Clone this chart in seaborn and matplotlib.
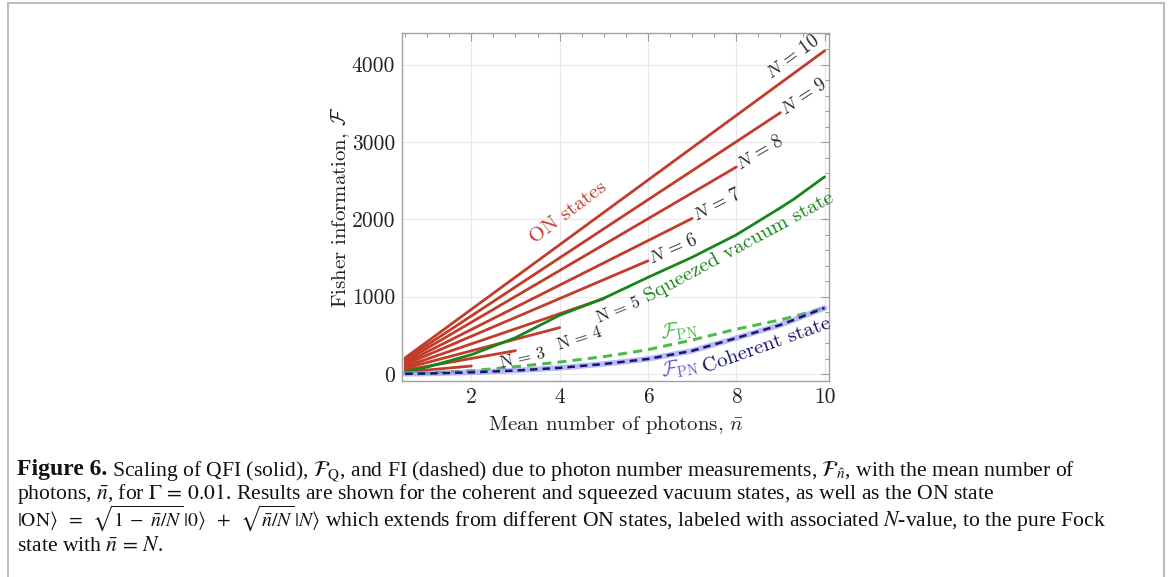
import numpy as np
import pandas as pd
import matplotlib
matplotlib.use("Agg")
import matplotlib.pyplot as plt
from matplotlib.patches import Rectangle
import seaborn as sns

# ---- data ----
on_N = [2, 3, 4, 5, 6, 7, 8, 9, 10]
on_start_n = [0.5, 0.5, 0.5, 0.5, 0.5, 0.5, 0.5, 0.5, 0.5]
on_start_F = [26, 50, 75, 97, 122, 144, 167, 188, 209]
on_end_F = [104, 302, 600, 975, 1464, 2012, 2677, 3380, 4180]

nbar = [0.5, 1, 2, 3, 4, 5, 6, 7, 8, 9, 9.3, 10]
squeezed_F = [30, 90, 250, 470, 760, 980, 1250, 1510, 1800, 2150, 2260, 2550]
fpn_squeezed = [5, 12, 43, 95, 155, 225, 315, 440, 580, 700, 745, 855]
coherent_F = [3, 7, 22, 45, 80, 130, 195, 300, 465, 635, 700, 855]

xticks = [2, 4, 6, 8, 10]
yticks = [0, 1000, 2000, 3000, 4000]

RED = "#c33b2a"
GREEN = "#17851a"
LGREEN = "#4dbb4a"
NAVY = "#16166a"
BAND = "#8c8cf2"
PURPLE = "#6a58d0"

sns.set_style("white")
plt.rcParams["font.family"] = ["cmr10", "DejaVu Serif"]
plt.rcParams["mathtext.fontset"] = "cm"
plt.rcParams["axes.formatter.use_mathtext"] = True

W, H = 1168, 577
fig = plt.figure(figsize=(W / 100, H / 100), dpi=100)
ax = fig.add_axes([402 / W, 1 - 381 / H, 427 / W, 348 / H])

# ON states
rows = []
for N, x0, y0, y1 in zip(on_N, on_start_n, on_start_F, on_end_F):
    rows.append({"n": x0, "F": y0, "N": N})
    rows.append({"n": N, "F": y1, "N": N})
on_df = pd.DataFrame(rows)
sns.lineplot(data=on_df, x="n", y="F", units="N", estimator=None,
             color=RED, lw=2.0, ax=ax, legend=False)

curves = pd.DataFrame({"n": nbar, "sq": squeezed_F, "fpn": fpn_squeezed, "coh": coherent_F})
sns.lineplot(data=curves, x="n", y="sq", color=GREEN, lw=2.0, ax=ax)
sns.lineplot(data=curves, x="n", y="fpn", color=LGREEN, lw=2.2, ax=ax, linestyle=(0, (3, 2)))
sns.lineplot(data=curves, x="n", y="coh", color=BAND, lw=4.0, alpha=0.6, ax=ax)
sns.lineplot(data=curves, x="n", y="coh", color=NAVY, lw=1.8, ax=ax, linestyle=(0, (3, 2)))

ax.set_xlim(0.43, 10.1)
ax.set_ylim(-90, 4410)
ax.set_xticks(xticks)
ax.set_yticks(yticks)
ax.set_xticks(np.arange(0.5, 10.01, 0.5), minor=True)
ax.set_yticks(np.arange(0, 4401, 200), minor=True)
ax.set_xticklabels([str(t) for t in xticks])
ax.set_yticklabels([str(t) for t in yticks])
ax.tick_params(which="both", direction="in", top=True, right=True, color="#9a9a9a",
               labelsize=15.5, labelcolor="#222222", pad=5)
ax.tick_params(which="major", length=6, width=0.8)
ax.tick_params(which="minor", length=3, width=0.7)
ax.grid(True, which="major", color="#e8e8e8", lw=0.8)
for s in ax.spines.values():
    s.set_color("#a0a0a0")
    s.set_linewidth(1.0)
ax.set_xlabel(r"Mean number of photons, $\bar{n}$", fontsize=15, color="#222222", labelpad=5)
ax.set_ylabel(r"Fisher information, $\mathcal{F}$", fontsize=15, color="#222222", labelpad=0)


def screen_angle(x0, y0, x1, y1):
    p = ax.transData.transform([[x0, y0], [x1, y1]])
    return np.degrees(np.arctan2(p[1, 1] - p[0, 1], p[1, 0] - p[0, 0]))


# N labels
for N, x0, y0, y1 in zip(on_N, on_start_n, on_start_F, on_end_F):
    ang = screen_angle(x0, y0, N, y1)
    if N == 10:
        ax.annotate(r"$N\,=\,10$", (N, y1), xytext=(-1, 3), textcoords="offset points",
                    ha="right", va="bottom", rotation=ang, rotation_mode="anchor", fontsize=13.5)
    elif N >= 6:
        ax.annotate(rf"$N\,=\,{N}$", (N, y1), xytext=(1, 1), textcoords="offset points",
                    ha="left", va="center", rotation=ang, rotation_mode="anchor", fontsize=13.5)
    elif N >= 3:
        pos = {5: (5.33, 840), 4: (4.45, 470), 3: (3.17, 215)}[N]
        ax.text(pos[0], pos[1], rf"$\mathrm{{N}}\,=\,{N}$", ha="center", va="center",
                rotation=ang + 3, rotation_mode="anchor", fontsize=12.5)

ax.text(4.19, 2085, "ON states", color=RED, fontsize=15, ha="center", va="center",
        rotation=37, rotation_mode="anchor")
ax.text(8.06, 1640, "Squeezed vacuum state", color=GREEN, fontsize=15, ha="center",
        va="center", rotation=28.5, rotation_mode="anchor")
ax.text(6.72, 560, r"$\mathcal{F}_{\mathrm{PN}}$", color=LGREEN, fontsize=15, ha="center",
        va="center", rotation=8, rotation_mode="anchor")
ax.text(6.72, 75, r"$\mathcal{F}_{\mathrm{PN}}$", color=PURPLE, fontsize=15, ha="center",
        va="center", rotation=10, rotation_mode="anchor")
ax.text(8.68, 372, "Coherent state", color=NAVY, fontsize=15, ha="center", va="center",
        rotation=19.7, rotation_mode="anchor")

# outer frame
fig.patches.append(Rectangle((8 / W, -0.01), 1156 / W, 1 - 3 / H + 0.01,
                             transform=fig.transFigure, fill=False,
                             edgecolor="#bdbdbd", lw=1.5))

# caption
cap = dict(family="Liberation Serif", fontsize=15.6, color="#111111", va="baseline",
           math_fontfamily="stix")
renderer = fig.canvas.get_renderer()


def follow(prev, y, s, **kw):
    # place text s right after the text artist prev
    x = prev.get_window_extent(renderer).x1 + 5
    return fig.text(x / W, y, s, **kw)


y1 = 1 - 475 / H
head = fig.text(17 / W, y1, "Figure 6.", weight="bold", **{**cap, "fontsize": 17})
follow(head, y1,
       r"Scaling of QFI (solid), $\mathcal{F}_{\mathrm{Q}}$, and FI (dashed) due to photon "
       r"number measurements, $\mathcal{F}_{\hat{n}}$, with the mean number of", **cap)
fig.text(17 / W, 1 - 499 / H,
         r"photons, $\bar{n}$, for $\mathit{\Gamma}\,=\,0.01$. Results are shown for the coherent "
         r"and squeezed vacuum states, as well as the ON state", **cap)
y3 = 1 - 526 / H
ket = fig.text(17 / W, y3,
               r"$|\mathrm{ON}\rangle\;\;=\;\;\sqrt{1\;-\;\bar{n}/N}\,|0\rangle\;\;+\;\;\sqrt{\bar{n}/N}\,|N\rangle$",
               **{**cap, "fontsize": 14.2})
follow(ket, y3,
       r"which extends from different ON states, labeled with associated $N$-value, to the pure Fock",
       **cap)
fig.text(17 / W, 1 - 551 / H, r"state with $\bar{n}\,=\,N$.", **cap)

fig.savefig("out.png", dpi=100)
